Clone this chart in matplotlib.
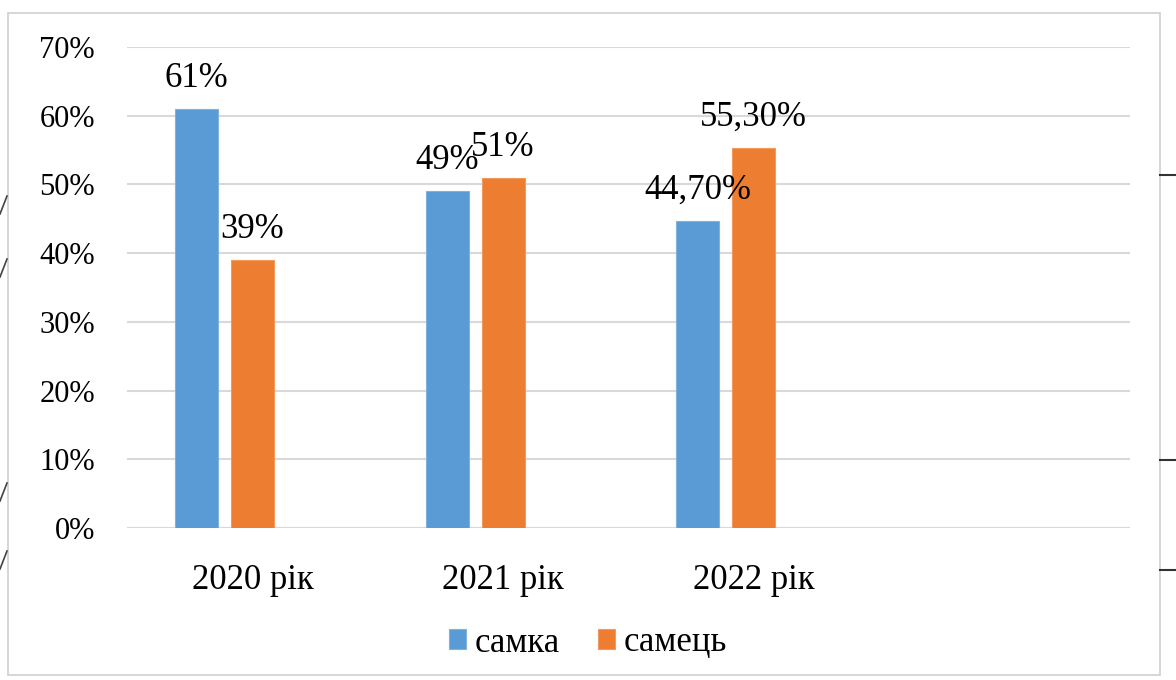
import matplotlib.pyplot as plt
from matplotlib.patches import Rectangle
from matplotlib.lines import Line2D

years = ['2020 рік', '2021 рік', '2022 рік']
female = [0.61, 0.49, 0.447]
male = [0.39, 0.51, 0.553]
female_labels = ['61%', '49%', '44,70%']
male_labels = ['39%', '51%', '55,30%']
y_ticks = [0, 0.1, 0.2, 0.3, 0.4, 0.5, 0.6, 0.7]

plt.rcParams['font.family'] = ['Liberation Serif', 'DejaVu Serif']

blue = '#5B9BD5'
orange = '#ED7D31'
grid = '#D9D9D9'
fs = 25

fig = plt.figure(figsize=(11.76, 6.8), dpi=100)

# outer chart frame
fig.patches.append(Rectangle((8 / 1176, 5 / 680), 1152 / 1176, 662 / 680,
                             transform=fig.transFigure, fill=False,
                             edgecolor='#D0D0D0', linewidth=1.2))
# bits of the neighbouring shapes on both sides
for yy in [175, 460, 570]:
    fig.lines.append(Line2D([1160 / 1176, 1.0], [1 - yy / 680] * 2,
                            transform=fig.transFigure, color='#333333', lw=1.5))
for yy in [205, 268, 492, 560]:
    fig.lines.append(Line2D([0, 7 / 1176], [1 - (yy + 9) / 680, 1 - (yy - 9) / 680],
                            transform=fig.transFigure, color='#444444', lw=1.2))

ax = fig.add_axes([127 / 1176, 152 / 680, 1003 / 1176, 481 / 680])

w = 0.1715
off = 0.223
x = range(len(years))
xf = [i - off for i in x]
xm = list(x)
ax.bar(xf, female, width=w, color=blue, edgecolor='#7FB2E0', linewidth=0.8,
       label='самка', zorder=3)
ax.bar(xm, male, width=w, color=orange, edgecolor='#F29A5E', linewidth=0.8,
       label='самець', zorder=3)

# value labels above each bar
for xi, v, t in zip(xf, female, female_labels):
    ax.annotate(t, (xi, v), xytext=(0, 22), textcoords='offset points',
                ha='center', va='center', fontsize=fs)
for xi, v, t in zip(xm, male, male_labels):
    ax.annotate(t, (xi, v), xytext=(0, 22), textcoords='offset points',
                ha='center', va='center', fontsize=fs)

ax.set_xlim(-0.5, 3.5)
ax.set_ylim(0, 0.7)
ax.set_yticks(y_ticks)
ax.set_yticklabels([f'{int(round(t * 100))}%' for t in y_ticks], fontsize=22)
ax.set_xticks(list(x))
ax.set_xticklabels(years, fontsize=fs)
ax.tick_params(axis='y', length=0, pad=23)
ax.tick_params(axis='x', length=0, pad=26)
ax.yaxis.grid(True, color=grid, linewidth=1.5, zorder=0)
for s in ax.spines.values():
    s.set_visible(False)
ax.axhline(0, color=grid, linewidth=1.5, zorder=2)

fig.legend(loc='center', bbox_to_anchor=(588 / 1176, 1 - 643 / 680), ncol=2,
           frameon=False, fontsize=fs, handlelength=0.5, handleheight=0.5,
           handletextpad=0.25, columnspacing=1.1)

fig.savefig('out.png', dpi=100)
